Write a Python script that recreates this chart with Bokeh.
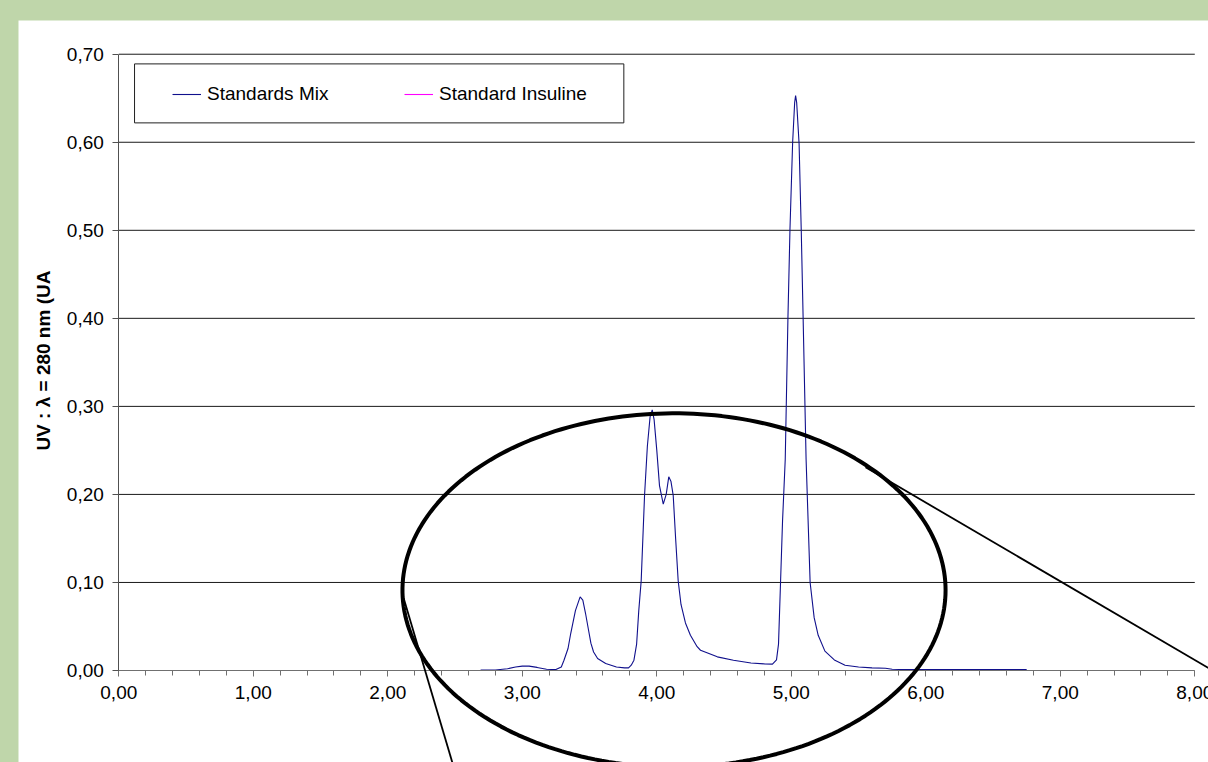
import numpy as np
from bokeh.plotting import figure
from bokeh.models import (Range1d, FixedTicker, CustomJSTickFormatter, Legend, LegendItem, Label,
                          BoxAnnotation, PolyAnnotation, GlobalInlineStyleSheet, ColumnDataSource)
from bokeh.embed import file_html
from bokeh.resources import INLINE

# ---- data: Standards Mix chromatogram (time, absorbance) ----
mix_time = [2.69, 2.80, 2.89, 2.95, 3.00, 3.05, 3.11, 3.18, 3.25, 3.29, 3.31, 3.34, 3.36, 3.395,
            3.43, 3.45, 3.47, 3.49, 3.51, 3.53, 3.56, 3.62, 3.70, 3.76, 3.79, 3.81, 3.83, 3.85,
            3.866, 3.884, 3.909, 3.93, 3.95, 3.966, 3.98, 4.00, 4.02, 4.048, 4.07, 4.089, 4.105,
            4.122, 4.14, 4.159, 4.18, 4.213, 4.25, 4.30, 4.325, 4.45, 4.57, 4.70, 4.80, 4.86,
            4.89, 4.905, 4.92, 4.935, 4.955, 4.975, 4.99, 5.01, 5.025, 5.032, 5.04, 5.058, 5.074,
            5.088, 5.11, 5.14, 5.17, 5.20, 5.25, 5.32, 5.40, 5.50, 5.60, 5.70, 5.75, 5.85, 6.00, 6.75]
mix_abs = [0.0005, 0.0005, 0.002, 0.004, 0.005, 0.005, 0.0035, 0.0015, 0.001, 0.004, 0.0117, 0.025,
           0.042, 0.068, 0.0836, 0.080, 0.065, 0.048, 0.031, 0.021, 0.0136, 0.008, 0.004, 0.003,
           0.003, 0.006, 0.0117, 0.030, 0.068, 0.102, 0.199, 0.255, 0.288, 0.296, 0.285, 0.250,
           0.210, 0.189, 0.200, 0.220, 0.215, 0.199, 0.150, 0.102, 0.075, 0.054, 0.040, 0.027,
           0.023, 0.0155, 0.0117, 0.0086, 0.0075, 0.0072, 0.012, 0.030, 0.100, 0.170, 0.240,
           0.400, 0.500, 0.600, 0.645, 0.653, 0.645, 0.598, 0.500, 0.400, 0.240, 0.100, 0.060,
           0.040, 0.022, 0.012, 0.006, 0.004, 0.003, 0.0025, 0.0015, 0.001, 0.001, 0.001]
# Standard Insuline: no visible trace in the picture (legend entry only)
insuline_time = [float("nan")]
insuline_abs = [float("nan")]

series_names = ["Standards Mix", "Standard Insuline"]
series_colors = ["#10108c", "#FF00FF"]

x_ticks = [0, 1, 2, 3, 4, 5, 6, 7, 8]
x_minor_ticks = [round(v, 1) for v in np.arange(0, 8.01, 0.2)]
y_ticks = [0.0, 0.1, 0.2, 0.3, 0.4, 0.5, 0.6, 0.7]
y_title = "UV : \u03bb = 280 nm (UA"

# axis extents and view window (the view covers the whole white panel so that
# the axes' labels and the callout can sit anywhere on it)
x_axis_span = (0, 8)
y_axis_span = (0, 0.7)
x_view = (-0.7457, 8.2506)
y_view = (-0.1045, 0.7383)

# ---- decorations (callout ellipse and lines, title position, in data units) ----
ell_cx, ell_cy, ell_a, ell_b = 4.128, 0.0912, 2.019, 0.2009
left_line = ([2.107, 2.510], [0.0877, -0.120])
right_line = ([5.552, 8.25], [0.2308, -0.0105])
y_title_pos = (-0.560, 0.352)

FONT = "Liberation Sans"

p = figure(frame_width=1210, frame_height=742, output_backend="svg", toolbar_location=None,
           x_range=Range1d(*x_view), y_range=Range1d(*y_view),
           min_border_left=0, min_border_right=0, min_border_top=0, min_border_bottom=0,
           margin=(20, 0, 0, 18))
p.stylesheets = [GlobalInlineStyleSheet(
    css="html, body { background: #bfd6aa; margin: 0; padding: 0; overflow: hidden; }")]
p.background_fill_color = "white"
p.border_fill_color = "white"
p.outline_line_color = None
p.xgrid.visible = False
p.ygrid.visible = False

# horizontal gridlines, limited to the axis extent
p.segment(x0=x_axis_span[0], x1=x_axis_span[1], y0=y_ticks[1:], y1=y_ticks[1:],
          line_color="#1a1a1a", line_width=1, level="underlay")

src_mix = ColumnDataSource(dict(x=mix_time, y=mix_abs))
src_ins = ColumnDataSource(dict(x=insuline_time, y=insuline_abs))
r_mix = p.line("x", "y", source=src_mix, line_color=series_colors[0], line_width=1.1)
r_ins = p.line("x", "y", source=src_ins, line_color=series_colors[1], line_width=1.1)

fmt = CustomJSTickFormatter(code="return tick.toFixed(2).replace('.', ',');")

xa = p.xaxis[0]
xa.fixed_location = 0
xa.bounds = x_axis_span
xa.ticker = FixedTicker(ticks=x_ticks, minor_ticks=x_minor_ticks)
xa.formatter = fmt
xa.major_tick_out = 6
xa.major_tick_in = 0
xa.minor_tick_out = 5
xa.minor_tick_in = 0
xa.axis_line_color = "#707070"
xa.major_tick_line_color = "#707070"
xa.minor_tick_line_color = "#707070"
xa.major_label_text_font = FONT
xa.major_label_text_font_size = "19px"
xa.major_label_text_color = "black"
xa.major_label_standoff = 10

ya = p.yaxis[0]
ya.fixed_location = 0
ya.bounds = y_axis_span
ya.ticker = FixedTicker(ticks=y_ticks, minor_ticks=[])
ya.formatter = fmt
ya.major_tick_out = 6
ya.major_tick_in = 0
ya.minor_tick_out = 0
ya.minor_tick_in = 0
ya.axis_line_color = "#505050"
ya.major_tick_line_color = "#505050"
ya.major_label_text_font = FONT
ya.major_label_text_font_size = "19px"
ya.major_label_text_color = "black"
ya.major_label_standoff = 9

p.add_layout(Label(x=y_title_pos[0], y=y_title_pos[1], text=y_title, angle=np.pi / 2,
                   text_align="center", text_baseline="middle", text_font=FONT,
                   text_font_size="19px", text_font_style="bold", text_color="black"))

# legend box
p.add_layout(BoxAnnotation(left=0.117, right=3.755, bottom=0.622, top=0.689,
                           fill_alpha=0, line_color="#202020", line_alpha=1, line_width=1))
# legend items (two separate legends for precise placement); location = bottom-left from frame bottom-left
for r, name, xloc in [(r_mix, series_names[0], 154), (r_ins, series_names[1], 386)]:
    lg = Legend(items=[LegendItem(label=name, renderers=[r])], location=(xloc, 656),
                orientation="horizontal", padding=0, margin=0, spacing=0,
                glyph_width=29, glyph_height=24, label_height=24, label_standoff=6,
                border_line_alpha=0, background_fill_alpha=0,
                label_text_font=FONT, label_text_font_size="19px", label_text_color="black")
    p.add_layout(lg)

# callout ellipse and lines
theta = np.linspace(0, 2 * np.pi, 240)
p.add_layout(PolyAnnotation(xs=list(ell_cx + ell_a * np.cos(theta)), ys=list(ell_cy + ell_b * np.sin(theta)),
                            fill_alpha=0, line_color="black", line_alpha=1, line_width=4))
for xs, ys in (left_line, right_line):
    p.add_layout(PolyAnnotation(xs=xs, ys=ys, fill_alpha=0, line_color="black", line_alpha=1,
                                line_width=1.8))

open("out.html", "w").write(file_html(p, INLINE))
